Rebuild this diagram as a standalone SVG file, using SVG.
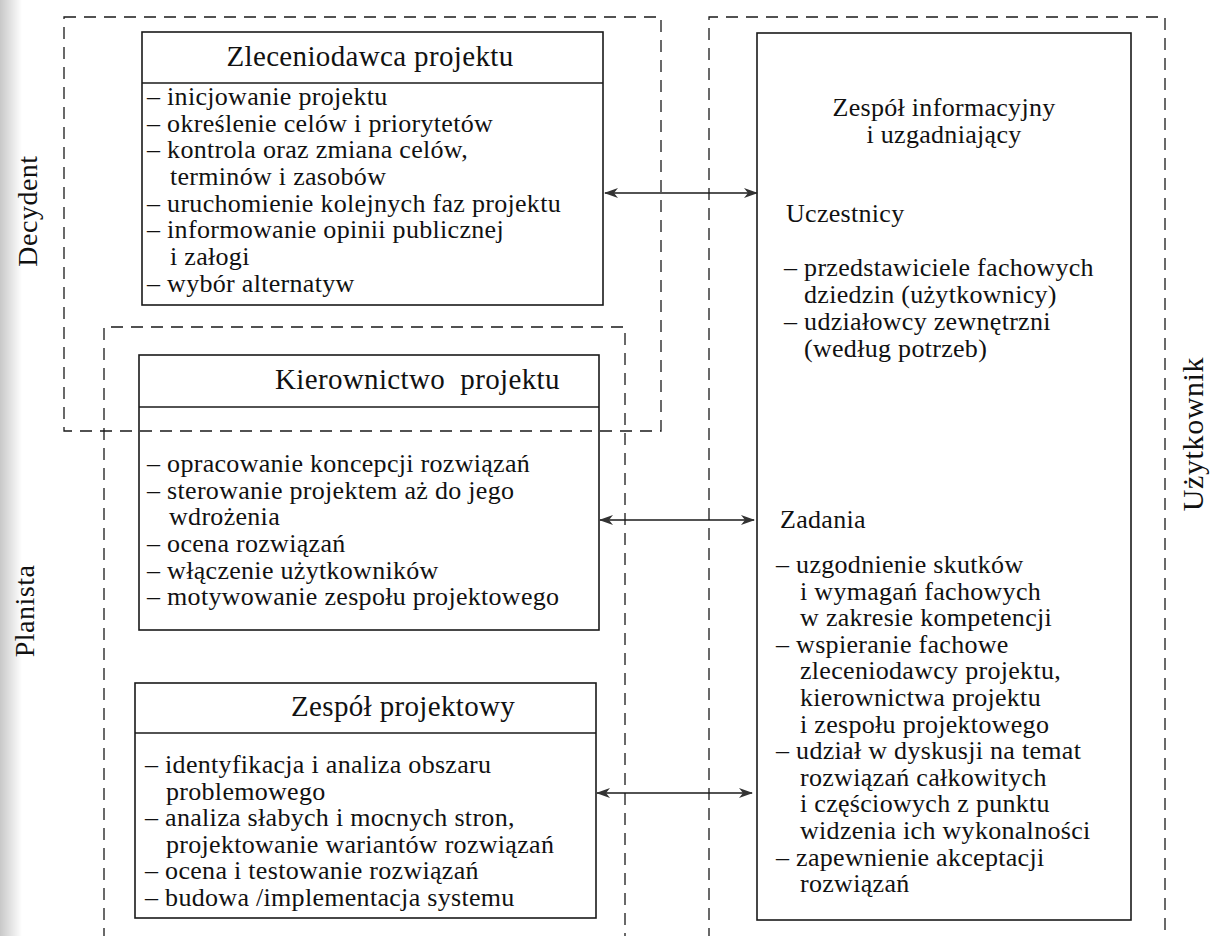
<svg xmlns="http://www.w3.org/2000/svg" width="1212" height="936" viewBox="0 0 1212 936">
<style>
  .bg { fill: #ffffff; }
  .box { fill: none; stroke: #1a1a1a; stroke-width: 1.6; }
  .hdr { stroke: #1a1a1a; stroke-width: 1.6; }
  .dash { fill: none; stroke: #1a1a1a; stroke-width: 1.3; stroke-dasharray: 12 8; }
  .conn { stroke: #1a1a1a; stroke-width: 1.4; fill: none; }
  text { font-family: "Liberation Serif", "Times New Roman", serif; fill: #111; }
  .t { font-size: 26px; letter-spacing: 0.3px; }
  .h { font-size: 29px; letter-spacing: 0.35px; }
  .side { font-size: 28px; letter-spacing: 0.5px; }
  .mid { text-anchor: middle; }
</style>
<defs>
  <linearGradient id="scan" x1="0" y1="0" x2="1" y2="0">
    <stop offset="0" stop-color="#c8c8c8"/>
    <stop offset="1" stop-color="#ffffff"/>
  </linearGradient>
  <marker id="arr" viewBox="0 0 14 10" refX="13" refY="5" markerWidth="14" markerHeight="10" markerUnits="userSpaceOnUse" orient="auto-start-reverse">
    <path d="M0,0 L14,5 L0,10 L4,5 Z" fill="#333"/>
  </marker>
</defs>
<rect class="bg" x="0" y="0" width="1212" height="936"/>
<rect x="0" y="0" width="22" height="936" fill="url(#scan)"/>

<g id="regions">
  <rect id="region-decydent" class="dash" x="64" y="17" width="597" height="414"/>
  <path id="region-planista" class="dash" d="M104,940 V327 H625 V940"/>
  <path id="region-uzytkownik" class="dash" d="M709,940 V17 H1165 V940"/>
</g>

<g id="side-labels">
  <text class="side mid" transform="translate(37,211) rotate(-90)">Decydent</text>
  <text class="side mid" transform="translate(34,611) rotate(-90)">Planista</text>
  <text class="side mid" style="font-size:30px;letter-spacing:0.6px" transform="translate(1203,434) rotate(-90)">Użytkownik</text>
</g>

<g id="node-zleceniodawca">
  <rect class="box" x="142" y="32" width="461" height="273"/>
  <line class="hdr" x1="142" y1="83" x2="603" y2="83"/>
  <text class="h mid" x="370" y="66">Zleceniodawca projektu</text>
  <text class="t" x="147" y="105">– inicjowanie projektu</text>
  <text class="t" x="147" y="131.7">– określenie celów i priorytetów</text>
  <text class="t" x="147" y="158.3">– kontrola oraz zmiana celów,</text>
  <text class="t" x="170" y="185">terminów i zasobów</text>
  <text class="t" x="147" y="211.7">– uruchomienie kolejnych faz projektu</text>
  <text class="t" x="147" y="238.3">– informowanie opinii publicznej</text>
  <text class="t" x="170" y="265">i załogi</text>
  <text class="t" x="147" y="291.7">– wybór alternatyw</text>
</g>

<g id="node-kierownictwo">
  <rect class="box" x="139" y="355" width="460" height="275"/>
  <line class="hdr" x1="139" y1="407" x2="599" y2="407"/>
  <text class="h" x="275" y="389" xml:space="preserve">Kierownictwo  projektu</text>
  <text class="t" x="147" y="472">– opracowanie koncepcji rozwiązań</text>
  <text class="t" x="147" y="498.7">– sterowanie projektem aż do jego</text>
  <text class="t" x="169" y="525.3">wdrożenia</text>
  <text class="t" x="147" y="552">– ocena rozwiązań</text>
  <text class="t" x="147" y="578.7">– włączenie użytkowników</text>
  <text class="t" x="147" y="605.3">– motywowanie zespołu projektowego</text>
</g>

<g id="node-zespol-projektowy">
  <rect class="box" x="135" y="683" width="461" height="235"/>
  <line class="hdr" x1="135" y1="733" x2="596" y2="733"/>
  <text class="h" x="291" y="716">Zespół projektowy</text>
  <text class="t" x="145" y="773">– identyfikacja i analiza obszaru</text>
  <text class="t" x="166" y="799.5">problemowego</text>
  <text class="t" x="145" y="826">– analiza słabych i mocnych stron,</text>
  <text class="t" x="166" y="852.5">projektowanie wariantów rozwiązań</text>
  <text class="t" x="145" y="879">– ocena i testowanie rozwiązań</text>
  <text class="t" x="145" y="905.5">– budowa /implementacja systemu</text>
</g>

<g id="node-zespol-informacyjny">
  <rect class="box" x="757" y="33" width="374" height="887"/>
  <text class="t mid" x="944" y="116">Zespół informacyjny</text>
  <text class="t mid" x="944" y="143">i uzgadniający</text>
  <text class="t" x="786" y="222">Uczestnicy</text>
  <text class="t" x="784" y="276">– przedstawiciele fachowych</text>
  <text class="t" x="804" y="303">dziedzin (użytkownicy)</text>
  <text class="t" x="784" y="330">– udziałowcy zewnętrzni</text>
  <text class="t" x="804" y="357">(według potrzeb)</text>
  <text class="t" x="780" y="528">Zadania</text>
  <text class="t" x="776" y="573">– uzgodnienie skutków</text>
  <text class="t" x="800" y="599.6">i wymagań fachowych</text>
  <text class="t" x="800" y="626.2">w zakresie kompetencji</text>
  <text class="t" x="776" y="652.8">– wspieranie fachowe</text>
  <text class="t" x="800" y="679.4">zleceniodawcy projektu,</text>
  <text class="t" x="800" y="706">kierownictwa projektu</text>
  <text class="t" x="800" y="732.6">i zespołu projektowego</text>
  <text class="t" x="776" y="759.2">– udział w dyskusji na temat</text>
  <text class="t" x="800" y="785.8">rozwiązań całkowitych</text>
  <text class="t" x="800" y="812.4">i częściowych z punktu</text>
  <text class="t" x="800" y="839">widzenia ich wykonalności</text>
  <text class="t" x="776" y="865.6">– zapewnienie akceptacji</text>
  <text class="t" x="800" y="892.2">rozwiązań</text>
</g>

<g id="connectors">
  <line class="conn" x1="605" y1="193" x2="757" y2="193" marker-start="url(#arr)" marker-end="url(#arr)"/>
  <line class="conn" x1="600" y1="520" x2="754" y2="520" marker-start="url(#arr)" marker-end="url(#arr)"/>
  <line class="conn" x1="597" y1="793" x2="752" y2="793" marker-start="url(#arr)" marker-end="url(#arr)"/>
</g>
</svg>
